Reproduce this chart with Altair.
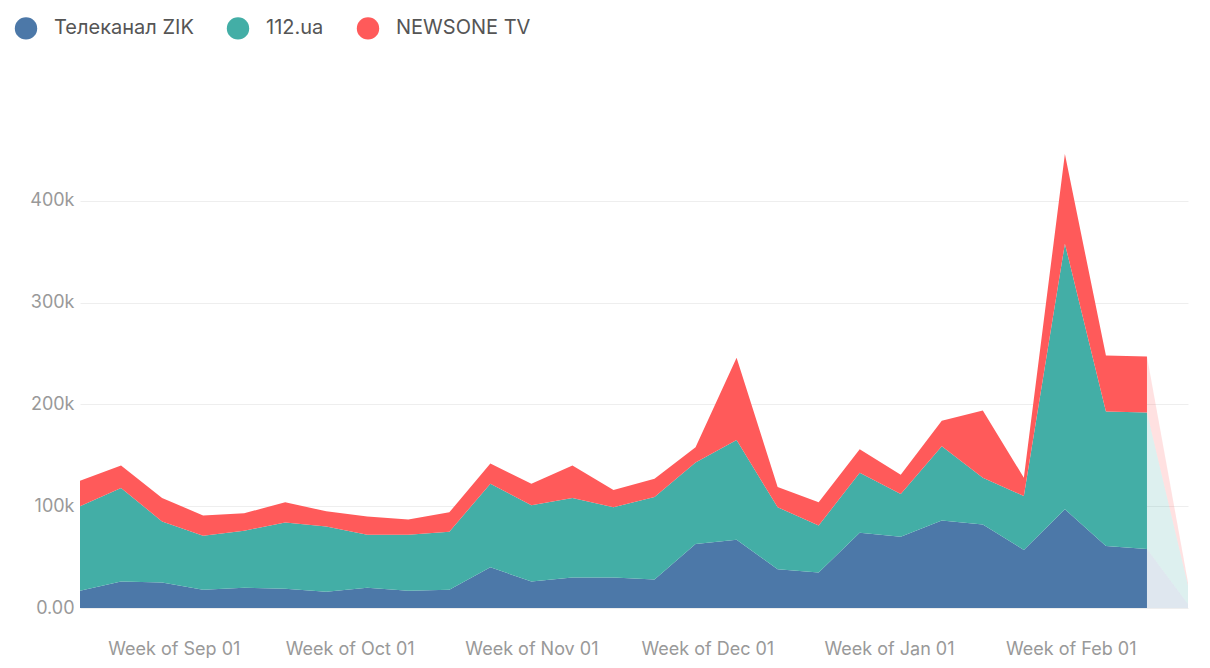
import pandas as pd
import altair as alt

dates = pd.date_range('2018-08-16', periods=28, freq='7D')
zik = [17, 26, 25, 18, 20, 19, 16, 20, 17, 18, 40, 26, 30, 30, 28, 63, 67, 38, 35, 74, 70, 86, 82, 57, 97, 61, 58, 4]
top_112 = [100, 118, 85, 71, 76, 84, 80, 72, 72, 75, 122, 101, 108, 99, 109, 143, 165, 99, 81, 133, 112, 159, 128, 110, 358, 193, 192, 22]
total = [125, 140, 108, 91, 93, 104, 95, 90, 87, 94, 142, 122, 140, 116, 127, 158, 246, 119, 104, 156, 131, 184, 194, 128, 446, 248, 247, 25]
series = ['Телеканал ZIK', '112.ua', 'NEWSONE TV']
colors = ['#4c78a8', '#43aea6', '#ff5a5a']

rows = []
for i, d in enumerate(dates):
    vals = [zik[i], top_112[i] - zik[i], total[i] - top_112[i]]
    for k, s in enumerate(series):
        rows.append({'date': d, 'series': s, 'order': k, 'value': vals[k] * 1000, 'idx': i})
df = pd.DataFrame(rows)
full = df[df.idx <= 26]
partial = df[df.idx >= 26]

x = alt.X('date:T', title=None, scale=alt.Scale(type='utc', domain=[dates[0].isoformat(), dates[-1].isoformat()]),
          axis=alt.Axis(tickCount={'interval': 'month', 'step': 1}, grid=False, domain=False, ticks=False,
                        labelExpr="'Week of ' + utcFormat(datum.value, '%b %d')",
                        labelFontSize=18, labelColor='#999', labelPadding=32, labelFont='Inter'))
y = alt.Y('value:Q', title=None, stack='zero', scale=alt.Scale(domain=[0, 450000]),
          axis=alt.Axis(values=[0, 100000, 200000, 300000, 400000], domain=False, ticks=False,
                        labelExpr="datum.value == 0 ? '0.00' : format(datum.value / 1000, 'd') + 'k'",
                        labelFontSize=18, labelColor='#999', gridColor='#eee', labelPadding=6, labelFont='Inter'))
color = alt.Color('series:N', scale=alt.Scale(domain=series, range=colors), title=None,
                  legend=alt.Legend(orient='none', legendX=-66, legendY=-134, direction='horizontal',
                                    symbolType='circle', symbolSize=500, symbolOpacity=1, labelFontSize=20,
                                    labelColor='#555', labelFont='Inter', columnPadding=32, labelOffset=16))

main = alt.Chart(full).mark_area(opacity=1).encode(x=x, y=y, color=color, order='order:Q')
fade = alt.Chart(partial).mark_area(opacity=0.18).encode(x=x, y=y, color=color, order='order:Q')

chart = (main + fade).properties(width=1108, height=458, padding={'left': 72, 'top': 142, 'right': 5, 'bottom': 50},
                                 autosize='none').configure_view(stroke=None)
chart.save("out.html", embed_options={"renderer": "svg", "actions": False})
